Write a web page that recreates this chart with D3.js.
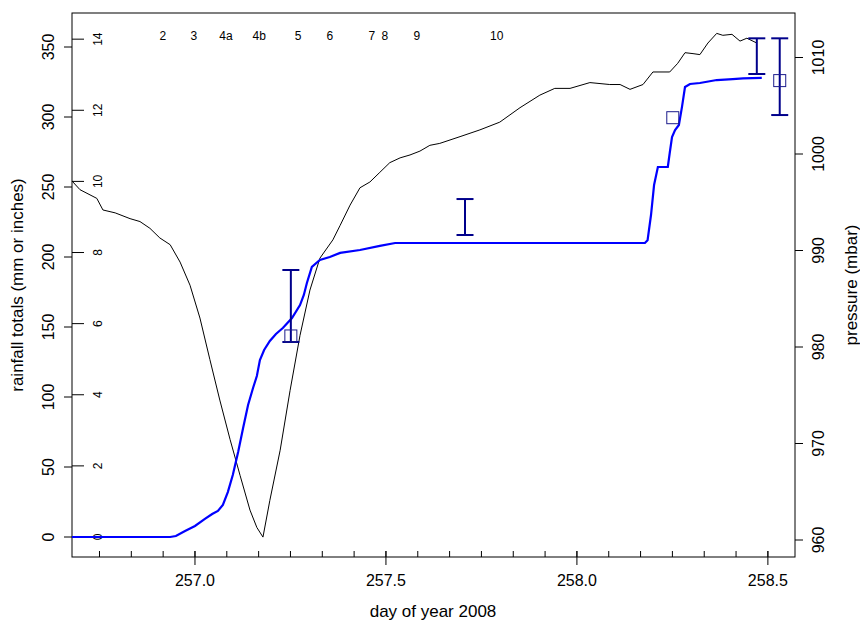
<!DOCTYPE html>
<html><head><meta charset="utf-8">
<script src="https://cdn.jsdelivr.net/npm/d3@7"></script>
<style>body{margin:0;background:#fff}svg{display:block;font-family:"Liberation Sans",Arial,sans-serif}</style>
</head><body><svg id="c" width="860" height="621"></svg>
<script>
// ---- data ----
const rainDay = [256.678,256.935,256.950,256.974,257.000,257.026,257.045,257.060,257.073,257.086,257.099,257.113,257.126,257.139,257.152,257.162,257.170,257.181,257.196,257.212,257.230,257.254,257.275,257.285,257.293,257.306,257.327,257.353,257.380,257.432,257.484,257.524,258.178,258.185,258.194,258.202,258.212,258.238,258.243,258.249,258.257,258.267,258.275,258.283,258.296,258.322,258.366,258.408,258.435,258.484];
const rainMm  = [0,0,0.7,4.3,7.9,12.9,16.4,18.6,22.9,32.1,44.3,60.7,77.9,94.3,106.4,115,126.4,133.6,140,145,149.3,156.4,165.7,172.9,181.4,192.9,197.9,200,202.9,205,207.9,210,210,212,230,251.4,264.3,264.3,274.3,285.7,290.7,294.3,307.1,321.4,323.6,324.3,326.4,327.1,327.6,327.9];
const presDay = [256.678,256.699,256.743,256.759,256.791,256.830,256.856,256.882,256.908,256.935,256.961,256.987,257.013,257.039,257.065,257.092,257.118,257.144,257.162,257.178,257.196,257.223,257.249,257.275,257.301,257.327,257.361,257.380,257.406,257.432,257.458,257.484,257.510,257.537,257.563,257.589,257.615,257.641,257.694,257.746,257.798,257.851,257.903,257.942,257.982,258.034,258.086,258.113,258.139,258.173,258.199,258.243,258.264,258.283,258.304,258.322,258.343,258.366,258.382,258.406,258.427,258.445,258.471];
const presMb  = [997.2,996.3,995.4,994.2,993.9,993.3,993.0,992.3,991.3,990.6,988.8,986.4,983.0,978.7,974.5,970.4,966.7,963.1,961.3,960.3,964.1,969.3,975.5,981.2,985.9,989.2,991.1,992.6,994.7,996.5,997.1,998.1,999.1,999.6,999.9,1000.3,1000.9,1001.1,1001.8,1002.5,1003.3,1004.8,1006.1,1006.8,1006.8,1007.4,1007.2,1007.2,1006.7,1007.2,1008.5,1008.5,1009.4,1010.5,1010.4,1010.3,1011.5,1012.5,1012.3,1012.4,1011.7,1012.0,1011.5];
const barDay = [257.251,257.707,258.471,258.531];
const barLo  = [139.3,215.7,330.7,301.4];
const barHi  = [190.7,241.4,356.2,356.2];
const sqDay  = [257.251,258.251,258.531];
const sqMm   = [143.6,299.5,326];
const sampleNames = ["2","3","4a","4b","5","6","7","8","9","10"];
const sampleDays  = [256.916,256.997,257.081,257.168,257.270,257.353,257.463,257.497,257.581,257.790];
const xMajor = [257.0,257.5,258.0,258.5];
const mmTicks = [0,50,100,150,200,250,300,350];
const inchTicks = [0,2,4,6,8,10,12,14];
const presTicks = [960,970,980,990,1000,1010];

// ---- layout ----
const L=72,R=795,T=13,B=557;
const svg=d3.select("#c");
const x=d3.scaleLinear().domain([256.678,258.571]).range([L,R]);
const y=d3.scaleLinear().domain([0,350]).range([537,47]);
const yp=d3.scaleLinear().domain([960,1010]).range([540,57.5]);

// box
svg.append("rect").attr("x",L).attr("y",T).attr("width",R-L).attr("height",B-T)
  .attr("fill","none").attr("stroke","#000").attr("stroke-width",1);

// bottom axis
const minor=d3.range(3,31).map(i=>256.75+(i-3)/12).filter(d=>d<=258.571);
const gx=svg.append("g");
gx.selectAll("line.mn").data(minor).join("line").attr("x1",d=>x(d)).attr("x2",d=>x(d))
  .attr("y1",B-6).attr("y2",B).attr("stroke","#000");
gx.selectAll("line.mj").data(xMajor).join("line").attr("x1",d=>x(d)).attr("x2",d=>x(d))
  .attr("y1",B-6).attr("y2",B+8).attr("stroke","#000");
gx.selectAll("text").data(xMajor).join("text").attr("x",d=>x(d)).attr("y",B+29)
  .attr("text-anchor","middle").attr("font-size",16).text(d=>d3.format(".1f")(d));
svg.append("text").attr("x",433).attr("y",617).attr("text-anchor","middle")
  .attr("font-size",17).text("day of year 2008");

// left mm axis
const gl=svg.append("g");
gl.selectAll("line").data(mmTicks).join("line").attr("x1",L-8).attr("x2",L)
  .attr("y1",d=>y(d)).attr("y2",d=>y(d)).attr("stroke","#000");
gl.selectAll("text").data(mmTicks).join("text")
  .attr("transform",d=>`translate(${L-18},${y(d)}) rotate(-90)`)
  .attr("text-anchor","middle").attr("font-size",16).text(d=>d);
svg.append("text").attr("transform","translate(23,285) rotate(-90)")
  .attr("text-anchor","middle").attr("font-size",17).text("rainfall totals (mm or inches)");

// inner inch axis
const gi=svg.append("g");
gi.selectAll("line").data(inchTicks).join("line").attr("x1",L).attr("x2",L+12)
  .attr("y1",d=>y(d*25.4)).attr("y2",d=>y(d*25.4)).attr("stroke","#000");
gi.selectAll("text").data(inchTicks).join("text")
  .attr("transform",d=>`translate(${L+30},${y(d*25.4)}) rotate(-90)`)
  .attr("text-anchor","middle").attr("font-size",12).text(d=>d);

// right pressure axis
const gr=svg.append("g");
gr.selectAll("line").data(presTicks).join("line").attr("x1",R).attr("x2",R+8)
  .attr("y1",d=>yp(d)).attr("y2",d=>yp(d)).attr("stroke","#000");
gr.selectAll("text").data(presTicks).join("text")
  .attr("transform",d=>`translate(${R+29},${yp(d)}) rotate(-90)`)
  .attr("text-anchor","middle").attr("font-size",16).text(d=>d);
svg.append("text").attr("transform","translate(857,285) rotate(-90)")
  .attr("text-anchor","middle").attr("font-size",17).text("pressure (mbar)");

// sample labels
svg.append("g").selectAll("text").data(sampleNames).join("text")
  .attr("x",(d,i)=>x(sampleDays[i])).attr("y",40).attr("text-anchor","middle")
  .attr("font-size",12).text(d=>d);

// pressure line
svg.append("path").datum(presDay.map((d,i)=>[d,presMb[i]]))
  .attr("d",d3.line().x(d=>x(d[0])).y(d=>yp(d[1])))
  .attr("fill","none").attr("stroke","#000").attr("stroke-width",1);

// rain line
svg.append("path").datum(rainDay.map((d,i)=>[d,rainMm[i]]))
  .attr("d",d3.line().x(d=>x(d[0])).y(d=>y(d[1])))
  .attr("fill","none").attr("stroke","#0000ff").attr("stroke-width",2.2);

// error bars
const ge=svg.append("g").attr("stroke","#00008b").attr("stroke-width",2);
barDay.forEach((d,i)=>{
  ge.append("line").attr("x1",x(d)).attr("x2",x(d)).attr("y1",y(barLo[i])).attr("y2",y(barHi[i]));
  [barLo[i],barHi[i]].forEach(v=>ge.append("line").attr("x1",x(d)-8.5).attr("x2",x(d)+8.5).attr("y1",y(v)).attr("y2",y(v)));
});
// squares
svg.append("g").selectAll("rect").data(sqDay).join("rect")
  .attr("x",d=>x(d)-6).attr("y",(d,i)=>y(sqMm[i])-6).attr("width",12).attr("height",12)
  .attr("fill","none").attr("stroke","#1c1c8c").attr("stroke-width",1);
</script></body></html>
